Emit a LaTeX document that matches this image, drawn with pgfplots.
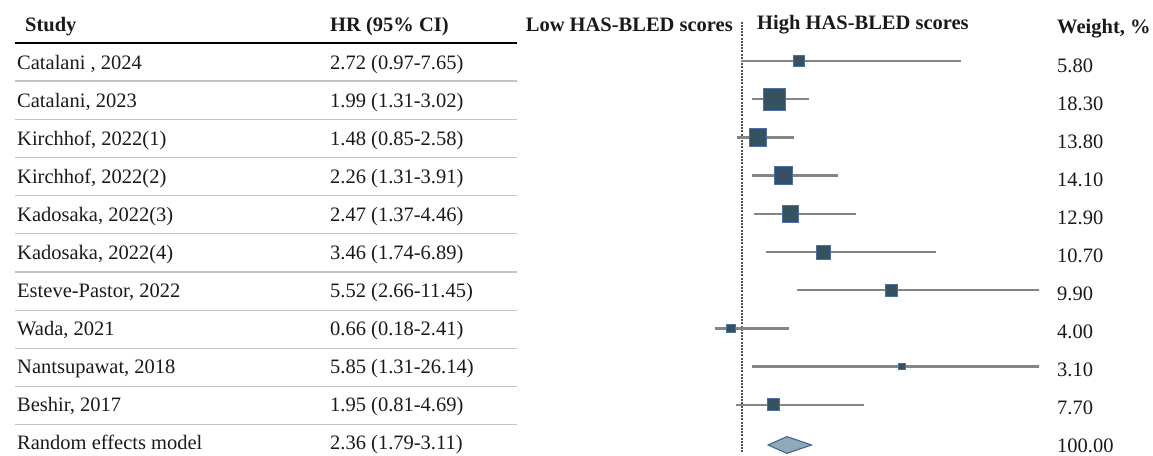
\documentclass[border=0pt]{standalone}
\usepackage{fontspec}
\setmainfont{Liberation Serif}
\usepackage{pgfplots}
\usepackage{pgfplotstable}
\pgfplotsset{compat=1.18}
\definecolor{sqfill}{HTML}{34525F}
\definecolor{sqedge}{HTML}{4A6FA8}
\definecolor{cigray}{HTML}{858585}
\definecolor{dmfill}{HTML}{8FA9B6}
\definecolor{dmedge}{HTML}{3F5F8F}
\definecolor{sepgray}{HTML}{C4C4C4}
\definecolor{txt}{HTML}{1A1A1A}
\definecolor{refline}{HTML}{555555}

\pgfplotstableread{
row hr lo hi w ms
1 2.72 0.97 7.65 5.80 5.2
2 1.99 1.31 3.02 18.30 11.2
3 1.48 0.85 2.58 13.80 8.8
4 2.26 1.31 3.91 14.10 8.8
5 2.47 1.37 4.46 12.90 8.3
6 3.46 1.74 6.89 10.70 7.1
7 5.52 2.66 11.45 9.90 6.0
8 0.66 0.18 2.41 4.00 4.2
9 5.85 1.31 26.14 3.10 3.2
10 1.95 0.81 4.69 7.70 6.0
}\studies

\begin{document}
\fontsize{20.5}{24}\selectfont
\begin{tikzpicture}
\useasboundingbox (0pt,0pt) rectangle (1153pt,-455pt);
% header
\node[anchor=base west, inner sep=0pt, text=txt] at (25pt,-31pt) {\bfseries Study};
\node[anchor=base west, inner sep=0pt, text=txt] at (330pt,-31pt) {\bfseries HR (95\% CI)};
\node[anchor=base east, inner sep=0pt, text=txt] at (733pt,-31.5pt) {\bfseries Low HAS-BLED scores};
\node[anchor=base west, inner sep=0pt, text=txt] at (757pt,-29.5pt) {\bfseries High HAS-BLED scores};
\node[anchor=base west, inner sep=0pt, text=txt] at (1057pt,-33pt) {\bfseries Weight, \%};
\draw[black, line width=1.5pt] (15pt,-43pt) -- (517pt,-43pt);
\foreach \k in {0,...,9} {
  \draw[sepgray, line width=1.3pt] (15pt,{-(81+38.2*\k)*1pt}) -- (517pt,{-(81+38.2*\k)*1pt});
}
% rows
\foreach \i/\s/\h/\w in {
  1/{Catalani , 2024}/{2.72 (0.97-7.65)}/5.80,
  2/{Catalani, 2023}/{1.99 (1.31-3.02)}/18.30,
  3/{Kirchhof, 2022(1)}/{1.48 (0.85-2.58)}/13.80,
  4/{Kirchhof, 2022(2)}/{2.26 (1.31-3.91)}/14.10,
  5/{Kadosaka, 2022(3)}/{2.47 (1.37-4.46)}/12.90,
  6/{Kadosaka, 2022(4)}/{3.46 (1.74-6.89)}/10.70,
  7/{Esteve-Pastor, 2022}/{5.52 (2.66-11.45)}/9.90,
  8/{Wada, 2021}/{0.66 (0.18-2.41)}/4.00,
  9/{Nantsupawat, 2018}/{5.85 (1.31-26.14)}/3.10,
  10/{Beshir, 2017}/{1.95 (0.81-4.69)}/7.70,
  11/{Random effects model}/{2.36 (1.79-3.11)}/100.00} {
  \pgfmathsetmacro{\yb}{63+38*(\i-1)+6.8}
  \node[anchor=base west, inner sep=0pt, text=txt] at (17pt,-\yb pt) {\s};
  \node[anchor=base west, inner sep=0pt, text=txt] at (330pt,-\yb pt) {\h};
  \node[anchor=base west, inner sep=0pt, text=txt] at (1057pt,{-(\yb+2.5)*1pt}) {\w};
}
\begin{axis}[at={(709pt,-453pt)}, anchor=south west, scale only axis,
  width=330pt, height=433pt, xmin=0, xmax=10, ymin=-0.073, ymax=11.26,
  y dir=reverse, hide axis]
\addplot[refline, line width=1.2pt, dash pattern=on 2pt off 1.2pt] coordinates {(1,-0.2) (1,11.4)};
\addplot[draw=none, mark=none,
  error bars/.cd, x dir=both, x explicit, error mark=none,
  error bar style={draw=cigray, line width=2.4pt}]
  table[x=hr, y=row, x error plus expr={\thisrow{hi}-\thisrow{hr}},
        x error minus expr={\thisrow{hr}-\thisrow{lo}}] {\studies};
\addplot[scatter, only marks, mark=square*,
  scatter/use mapped color={draw=sqedge, fill=sqfill},
  mark options={line width=0.8pt},
  visualization depends on={\thisrow{ms}\as\msz},
  scatter/@pre marker code/.append style={/tikz/mark size=\msz}]
  table[x=hr, y=row] {\studies};
\addplot[fill=dmfill, draw=dmedge, line width=1pt] coordinates
  {(1.79,11.05) (2.36,10.83) (3.11,11.05) (2.36,11.27)} -- cycle;
\end{axis}
\end{tikzpicture}
\end{document}
